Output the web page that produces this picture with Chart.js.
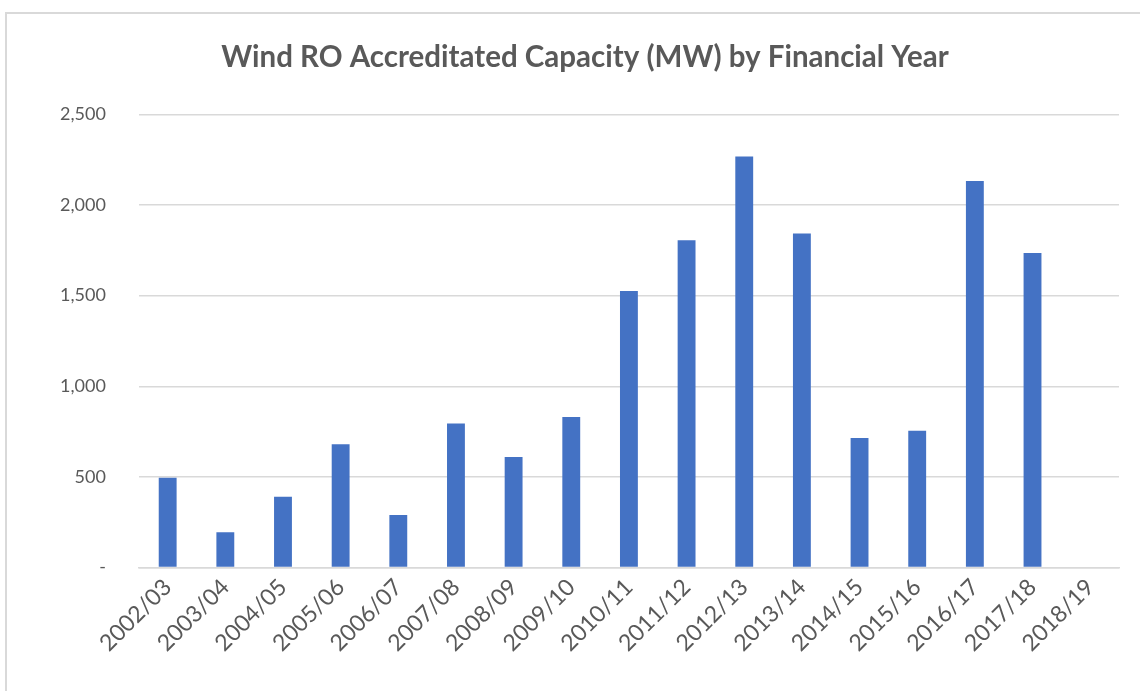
<!DOCTYPE html>
<html>
<head>
<meta charset="utf-8">
<script src="https://cdn.jsdelivr.net/npm/chart.js@4"></script>
<style>
  html, body { margin: 0; padding: 0; background: #fff; overflow: hidden; }
  #frame {
    position: absolute; left: 5px; top: 12px; width: 1160px; height: 720px;
    border-left: 2px solid #d9d9d9; border-top: 2px solid #d9d9d9;
  }
  #wrap { position: absolute; left: 0; top: 0; width: 1140px; height: 691px; }
</style>
</head>
<body>
<div id="frame"></div>
<div id="wrap"><canvas id="chart"></canvas></div>
<script>
// financial years on the x axis
const years = [
  "2002/03", "2003/04", "2004/05", "2005/06", "2006/07", "2007/08",
  "2008/09", "2009/10", "2010/11", "2011/12", "2012/13", "2013/14",
  "2014/15", "2015/16", "2016/17", "2017/18", "2018/19",
];

// accredited capacity in MW
const capacityMW = [
  495, 195, 390, 680, 290, 795,
  610, 830, 1525, 1805, 2268, 1843,
  715, 755, 2132, 1735, null,
];

const yTicks = [0, 500, 1000, 1500, 2000, 2500];

const grey = "#595959";

new Chart(document.getElementById("chart"), {
  type: "bar",
  data: {
    labels: years,
    datasets: [
      {
        label: "Wind RO Accreditated Capacity (MW)",
        data: capacityMW,
        backgroundColor: "#4472c4",
        borderWidth: 0,
        barPercentage: 0.31,
        categoryPercentage: 1,
      },
    ],
  },
  options: {
    responsive: true,
    maintainAspectRatio: false,
    animation: false,
    // extra left padding keeps the title centred like the original
    layout: { padding: { left: 51, right: 21, top: 40, bottom: 28 } },
    plugins: {
      legend: { display: false },
      tooltip: { enabled: false },
      title: {
        display: true,
        text: "Wind RO Accreditated Capacity (MW) by Financial Year",
        color: grey,
        font: { family: "Lato", size: 29.5, weight: "bold" },
        padding: { top: 0, bottom: 39 },
      },
    },
    scales: {
      x: {
        grid: { display: false, drawTicks: false },
        border: { color: "#d9d9d9", width: 1.5 },
        ticks: {
          color: grey,
          font: { family: "Lato", size: 23 },
          maxRotation: 45,
          minRotation: 45,
          padding: 6,
          autoSkip: false,
        },
      },
      y: {
        min: 0,
        max: 2500,
        afterBuildTicks: (axis) => {
          axis.ticks = yTicks.map((v) => ({ value: v }));
        },
        afterFit: (axis) => {
          axis.width -= 24;
        },
        grid: { color: "#d9d9d9", lineWidth: 1.5, drawTicks: false },
        border: { display: false },
        ticks: {
          color: grey,
          font: { family: "Lato", size: 18 },
          padding: 33,
          callback: (v) => (v === 0 ? "-" : v.toLocaleString("en-GB")),
        },
      },
    },
  },
});
</script>
</body>
</html>
